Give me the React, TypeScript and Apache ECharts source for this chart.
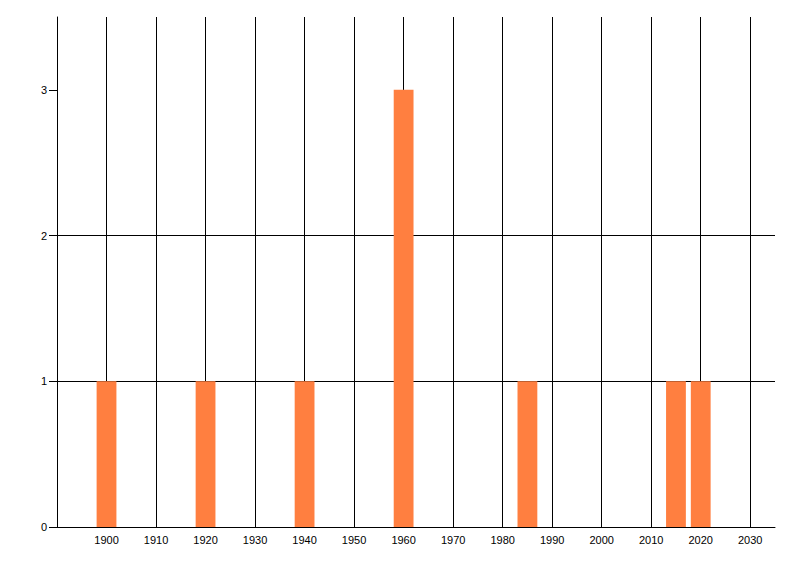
import { useRef, useEffect } from "react";
import * as echarts from "echarts";

// counts per year
const years = [1900, 1920, 1940, 1960, 1985, 2015, 2020];
const counts = [1, 1, 1, 3, 1, 1, 1];

const xLabels = [1900, 1910, 1920, 1930, 1940, 1950, 1960, 1970, 1980, 1990, 2000, 2010, 2020, 2030];
const yLabels = [0, 1, 2, 3];

const HALF_BAR = 2; // bar spans 4 years

const App = () => {
  const chartRef = useRef<HTMLDivElement>(null);

  useEffect(() => {
    const chart = echarts.init(chartRef.current, null, { renderer: "svg" });

    const font = { fontFamily: "Liberation Sans", fontSize: 11, color: "#000" };

    chart.setOption({
      animation: false,
      grid: { left: 57, right: 25, top: 17, bottom: 49, containLabel: false },
      xAxis: {
        type: "value",
        min: 1890,
        max: 2035,
        interval: 10,
        axisLine: { show: true, onZero: false, lineStyle: { color: "#000", width: 1 } },
        axisTick: { show: false },
        axisLabel: {
          ...font,
          margin: 7,
          customValues: xLabels,
          formatter: (v: number) => String(v),
        },
        splitLine: {
          show: true,
          showMinLine: false,
          showMaxLine: false,
          lineStyle: { color: "#000", width: 1 },
        },
      },
      yAxis: {
        type: "value",
        min: 0,
        max: 3.5,
        interval: 1,
        axisLine: { show: true, lineStyle: { color: "#000", width: 1 } },
        axisTick: { show: true, length: 8, customValues: yLabels, lineStyle: { color: "#000" } },
        axisLabel: {
          ...font,
          margin: 10,
          customValues: yLabels,
          formatter: (v: number) => String(v),
        },
        splitLine: {
          show: true,
          showMinLine: false,
          showMaxLine: false,
          lineStyle: { color: "#000", width: 1 },
        },
      },
      series: [
        {
          type: "custom",
          data: years.map((y, i) => [y, counts[i]]),
          encode: { x: 0, y: 1 },
          renderItem: (params: any, api: any) => {
            const x = api.value(0);
            const v = api.value(1);
            const p0 = api.coord([x - HALF_BAR, v]);
            const p1 = api.coord([x + HALF_BAR, 0]);
            return {
              type: "rect",
              shape: { x: p0[0], y: p0[1], width: p1[0] - p0[0], height: p1[1] - p0[1] },
              style: { fill: "#FF7F40" },
            };
          },
        },
      ],
    });

    return () => {
      chart.dispose();
    };
  }, []);

  return (
    <div
      ref={chartRef}
      style={{ position: "fixed", left: 0, top: 0, width: 800, height: 576, background: "#fff" }}
    />
  );
};

export default App;
